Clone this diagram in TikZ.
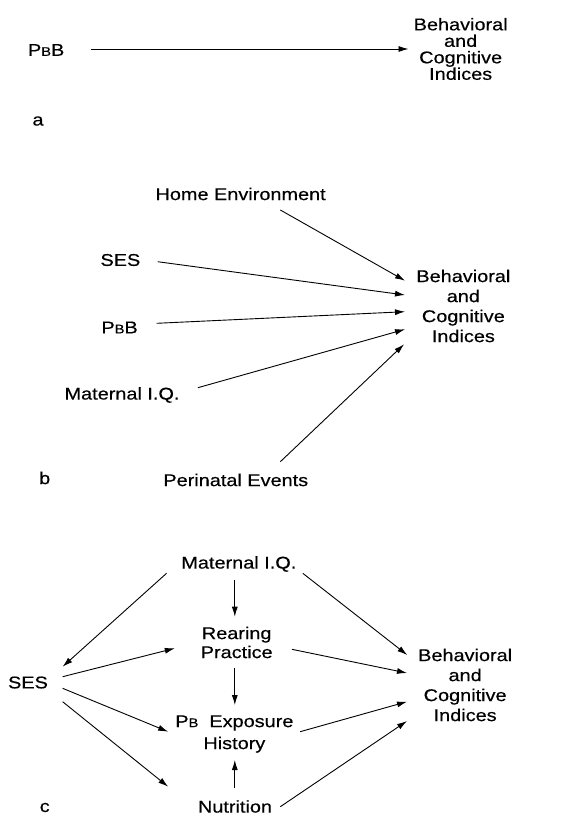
\documentclass[tikz,border=0pt]{standalone}
\usepackage{fontspec}
\setmainfont{Liberation Sans}[FakeStretch=1.17,FakeBold=0.4]
\usetikzlibrary{arrows.meta}
\newcommand{\smB}{{\fontsize{12.5}{12}\selectfont B}}
\begin{document}
\begin{tikzpicture}[x=0.8945pt,y=-1pt,
  lbl/.style={inner sep=0pt,font=\fontsize{17}{20}\selectfont},
  blk/.style={inner sep=0pt,align=center,font=\fontsize{17}{20}\selectfont},
  blka/.style={inner sep=0pt,align=center,font=\fontsize{17}{16.5}\selectfont},
  arr/.style={line width=0.9pt,-{Latex[length=10pt,width=6pt]}}]
\useasboundingbox[fill=white] (0,0) rectangle (646.2,816);
% ---------------- panel a
\node[lbl] (pbA) at (51.6,50) {P\smB B};
\node[blka] (bA) at (515,49) {Behavioral\\and\\Cognitive\\Indices};
\node[lbl] (la) at (42.5,121) {a};
\draw[arr] ([shift={(50,-1)}]pbA.center) -- ([shift={(-58.3,0)}]bA.center);
% ---------------- panel b
\node[lbl] (home) at (269,194) {Home Environment};
\node[lbl] (sesB) at (134.6,260) {SES};
\node[lbl] (pbB) at (133.7,327.5) {P\smB B};
\node[lbl] (matB) at (136.4,395) {Maternal I.Q.};
\node[lbl] (peri) at (263.6,480) {Perinatal Events};
\node[blk] (bB) at (518,306) {Behavioral\\and\\Cognitive\\Indices};
\node[lbl] (lb) at (50,478) {b};
\draw[arr] ([shift={(44.4,16)}]home.center) -- ([shift={(-65.2,-25.3)}]bB.center);
\draw[arr] ([shift={(41.6,1.7)}]sesB.center) -- ([shift={(-65.2,-11)}]bB.center);
\draw[arr] ([shift={(41.4,-4.2)}]pbB.center) -- ([shift={(-65.2,5.7)}]bB.center);
\draw[arr] ([shift={(84.8,-7.3)}]matB.center) -- ([shift={(-65.2,23.3)}]bB.center);
\draw[arr] ([shift={(49.8,-18.3)}]peri.center) -- ([shift={(-66.3,38.3)}]bB.center);
% ---------------- panel c
\node[lbl] (matC) at (267,564) {Maternal I.Q.};
\node[lbl] (sesC) at (31.3,682.5) {SES};
\node[blk,font=\fontsize{17}{19}\selectfont] (rear) at (264.6,642.5) {Rearing\\Practice};
\node[blk,font=\fontsize{17}{22}\selectfont] (pbC) at (262,734) {P\smB\ \ Exposure\\History};
\node[lbl] (nut) at (262.7,806.5) {Nutrition};
\node[blk] (bC) at (520,685) {Behavioral\\and\\Cognitive\\Indices};
\node[lbl] (lc) at (50,807.5) {c};
\draw[arr] ([shift={(-80.8,9.3)}]matC.center) -- ([shift={(38.7,-15.8)}]sesC.center);
\draw[arr] ([shift={(-4.5,16)}]matC.center) -- ([shift={(-2.1,-25.8)}]rear.center);
\draw[arr] ([shift={(71.5,9.3)}]matC.center) -- ([shift={(-64.7,-30)}]bC.center);
\draw[arr] ([shift={(38.7,-5.8)}]sesC.center) -- ([shift={(-69.2,5.8)}]rear.center);
\draw[arr] ([shift={(38.7,5.8)}]sesC.center) -- ([shift={(-74,-2.3)}]pbC.center);
\draw[arr] ([shift={(38.7,19.2)}]sesC.center) -- ([shift={(-74.7,-19.8)}]nut.center);
\draw[arr] ([shift={(61.7,6.8)}]rear.center) -- ([shift={(-65,-12)}]bC.center);
\draw[arr] ([shift={(-2.1,25.8)}]rear.center) -- ([shift={(0.5,-29)}]pbC.center);
\draw[arr] ([shift={(73.5,-2.3)}]pbC.center) -- ([shift={(-65,16.7)}]bC.center);
\draw[arr] ([shift={(-0.2,-18.2)}]nut.center) -- ([shift={(0.5,26)}]pbC.center);
\draw[arr] ([shift={(50.7,0.2)}]nut.center) -- ([shift={(-65,36)}]bC.center);
\end{tikzpicture}
\end{document}
